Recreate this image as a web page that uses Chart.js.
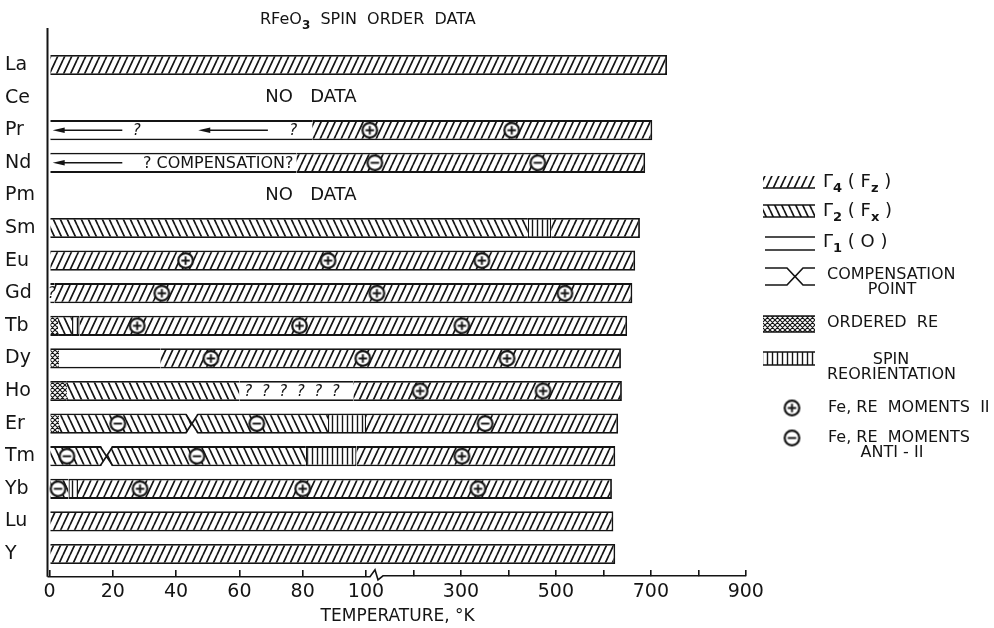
<!DOCTYPE html>
<html>
<head>
<meta charset="utf-8">
<title>RFeO3 spin order data</title>
<script src="https://cdn.jsdelivr.net/npm/chart.js@4.4.1/dist/chart.umd.min.js"></script>
<style>
  html, body { margin: 0; padding: 0; background: #fff; }
  #spinChart { display: block; }
</style>
</head>
<body>
<canvas id="spinChart" width="994" height="628"></canvas>
<script>
const compounds = ['La', 'Ce', 'Pr', 'Nd', 'Pm', 'Sm', 'Eu', 'Gd', 'Tb', 'Dy', 'Ho', 'Er', 'Tm', 'Yb', 'Lu', 'Y'];

// temperature ranges (K) of each spin phase, one slot per compound
const gamma4Fz = [[0, 734], null, [83, 703], [78, 688], null, [490, 677], [0, 667], [1.5, 661], [9.5, 650], [35, 637], [96, 639], [100, 631], [97, 625], [9, 618], [0, 621], [0, 625]];
const gamma2Fx = [null, null, null, null, null, [0, 441], null, null, [2.7, 7.1], null, [5.5, 60], [3, 88], [0, 81], [0, 6], null, null];
const gamma1 = [null, null, [0, 83], [0, 78], null, null, null, [0, 1.5], null, [3, 35], [60, 96], null, null, null, null, null];
const orderedRE = [null, null, null, null, null, null, null, null, [0, 2.7], [0, 3], [0, 5.5], [0, 3], null, null, null, null];
const spinReorient = [null, null, null, null, null, [441, 490], null, null, [7.1, 9.5], null, null, [88, 100], [81, 97], [6, 9], null, null];

// compensation points
const compRows = ['Er', 'Tm'];
const compTemps = [45, 18];

// Fe / RE moments parallel (+) and antiparallel (-)
const parallelRows = ['Pr', 'Pr', 'Eu', 'Eu', 'Eu', 'Gd', 'Gd', 'Gd', 'Tb', 'Tb', 'Tb', 'Dy', 'Dy', 'Dy', 'Ho', 'Ho', 'Tm', 'Yb', 'Yb', 'Yb'];
const parallelTemps = [108, 407, 43, 88, 344, 35.5, 123, 519, 27.7, 79, 302, 51, 99, 397, 214, 473, 302, 28.6, 80, 336];
const antiRows = ['Nd', 'Nd', 'Er', 'Er', 'Er', 'Tm', 'Tm', 'Yb'];
const antiTemps = [118.6, 462, 21.6, 65.5, 351, 5.5, 46.6, 2.7];

// uncertain regions written inside the bars
const noteRows = ['Pr', 'Pr', 'Nd', 'Ho', 'Gd'];
const noteTemps = [27.6, 77, 53.3, 76.6, 0.7];
const noteTexts = ['?', '?', '? COMPENSATION?', '?  ?  ?  ?  ?  ?', '?'];
const arrowRows = ['Pr', 'Pr', 'Nd'];
const arrowFrom = [23, 69, 23];
const arrowTo = [1, 47, 1];
const noDataRows = ['Ce', 'Pm'];
const noDataTemp = 82.6;

// temperature axis: linear to 100 K, compressed above
const tempTicks = [0, 20, 40, 60, 80, 100, 200, 300, 400, 500, 600, 700, 800, 900];
const tempLabels = ['0', '20', '40', '60', '80', '100', '', '300', '', '500', '', '700', '', '900'];
const BREAK_K = 100;
const UPPER_SCALE = 0.15;

const INK = '#141414';
const FONT = "'DejaVu Sans', 'Liberation Sans', sans-serif";

class BrokenTempScale extends Chart.LinearScale {
    units(v) { return v <= BREAK_K ? v : BREAK_K + (v - BREAK_K) * UPPER_SCALE; }
    fromUnits(u) { return u <= BREAK_K ? u : BREAK_K + (u - BREAK_K) / UPPER_SCALE; }
    buildTicks() { return tempTicks.map(v => ({ value: v })); }
    getPixelForValue(v) {
        if (v === null || v === undefined) return NaN;
        const lo = this.units(this.min), hi = this.units(this.max);
        return this.getPixelForDecimal((this.units(v) - lo) / (hi - lo));
    }
    getValueForPixel(p) {
        const lo = this.units(this.min), hi = this.units(this.max);
        return this.fromUnits(lo + this.getDecimalForPixel(p) * (hi - lo));
    }
}
BrokenTempScale.id = 'brokenTemp';
BrokenTempScale.defaults = Chart.LinearScale.defaults;
Chart.register(BrokenTempScale);

function makePattern(kind) {
    const c = document.createElement('canvas');
    const g = c.getContext('2d');
    if (kind === 'fwd' || kind === 'back') {
        c.width = 7; c.height = 15;
    } else if (kind === 'cross') {
        c.width = 5; c.height = 5;
    } else {
        c.width = 5; c.height = 4;
    }
    g.fillStyle = '#fff';
    g.fillRect(0, 0, c.width, c.height);
    g.strokeStyle = INK;
    g.lineWidth = 1.7;
    g.beginPath();
    const w = c.width, h = c.height;
    if (kind === 'fwd') {
        for (let k = -1; k <= 1; k++) { g.moveTo(k * w, h); g.lineTo(k * w + w, 0); }
    } else if (kind === 'back') {
        for (let k = -1; k <= 1; k++) { g.moveTo(k * w, 0); g.lineTo(k * w + w, h); }
    } else if (kind === 'cross') {
        g.lineWidth = 1.1;
        for (let k = -1; k <= 1; k++) {
            g.moveTo(k * w, h); g.lineTo(k * w + w, 0);
            g.moveTo(k * w, 0); g.lineTo(k * w + w, h);
        }
    } else {
        g.lineWidth = 1.4;
        g.moveTo(2.5, 0); g.lineTo(2.5, h);
    }
    g.stroke();
    return g.createPattern(c, 'repeat');
}

function momentGlyph(sign) {
    const c = document.createElement('canvas');
    c.width = c.height = 19;
    const g = c.getContext('2d');
    g.beginPath();
    g.arc(9.5, 9.5, 7.3, 0, Math.PI * 2);
    g.fillStyle = '#fff';
    g.fill();
    g.lineWidth = 2.2;
    g.strokeStyle = INK;
    g.stroke();
    g.beginPath();
    g.moveTo(5.3, 9.5); g.lineTo(13.7, 9.5);
    if (sign > 0) { g.moveTo(9.5, 5.3); g.lineTo(9.5, 13.7); }
    g.lineWidth = 1.9;
    g.stroke();
    return c;
}

const fills = {
    g4: makePattern('fwd'),
    g2: makePattern('back'),
    cross: makePattern('cross'),
    vert: makePattern('vert')
};
const plusGlyph = momentGlyph(1);
const minusGlyph = momentGlyph(-1);

const edgeTB = { top: 1.8, bottom: 1.8, left: 0, right: 0 };

function phaseSet(label, data, fill, border) {
    return {
        type: 'bar', label, data,
        backgroundColor: fill,
        borderColor: INK,
        borderWidth: border,
        borderSkipped: false,
        grouped: false,
        barPercentage: 0.62,
        categoryPercentage: 1,
        order: 1
    };
}

function momentSet(label, rows, temps, glyph) {
    return {
        type: 'scatter', label,
        data: temps.map((t, i) => ({ x: t, y: rows[i] })),
        pointStyle: glyph,
        pointRadius: 9,
        indexAxis: 'x',
        clip: false,
        order: 0
    };
}

function drawRuns(ctx, x, y, runs, size) {
    let cx = x;
    runs.forEach(([txt, sub]) => {
        const s = sub ? Math.round(size * 0.72) : size;
        ctx.font = `${sub ? 'bold ' : ''}${s}px ${FONT}`;
        ctx.fillText(txt, cx, y + (sub ? size * 0.38 : 0));
        cx += ctx.measureText(txt).width;
    });
}

const decorPlugin = {
    id: 'spinOrderDecor',
    afterDatasetsDraw(chart) {
        const { ctx, chartArea, scales: { x, y } } = chart;
        const rowY = r => y.getPixelForValue(compounds.indexOf(r));
        const barH = (y.getPixelForValue(1) - y.getPixelForValue(0)) * 0.62;
        ctx.save();
        ctx.strokeStyle = INK;
        ctx.fillStyle = INK;

        // compensation pinches
        compRows.forEach((r, i) => {
            const xc = x.getPixelForValue(compTemps[i]);
            const yc = rowY(r);
            const top = yc - barH / 2, bot = yc + barH / 2, w = 6;
            ctx.fillStyle = '#fff';
            ctx.beginPath();
            ctx.moveTo(xc - w, top - 1); ctx.lineTo(xc + w, top - 1); ctx.lineTo(xc, yc); ctx.closePath();
            ctx.moveTo(xc - w, bot + 1); ctx.lineTo(xc + w, bot + 1); ctx.lineTo(xc, yc); ctx.closePath();
            ctx.fill();
            ctx.lineWidth = 1.7;
            ctx.beginPath();
            ctx.moveTo(xc - w, top + 0.9); ctx.lineTo(xc, yc); ctx.lineTo(xc + w, top + 0.9);
            ctx.moveTo(xc - w, bot - 0.9); ctx.lineTo(xc, yc); ctx.lineTo(xc + w, bot - 0.9);
            ctx.stroke();
        });

        // arrows and question marks
        ctx.fillStyle = INK;
        ctx.lineWidth = 1.4;
        arrowRows.forEach((r, i) => {
            const yc = rowY(r);
            const x0 = x.getPixelForValue(arrowFrom[i]);
            const x1 = x.getPixelForValue(arrowTo[i]);
            ctx.beginPath();
            ctx.moveTo(x0, yc); ctx.lineTo(x1 + 8, yc);
            ctx.stroke();
            ctx.beginPath();
            ctx.moveTo(x1, yc); ctx.lineTo(x1 + 12, yc - 2.8); ctx.lineTo(x1 + 12, yc + 2.8); ctx.closePath();
            ctx.fill();
        });
        ctx.textAlign = 'center';
        ctx.textBaseline = 'middle';
        noteRows.forEach((r, i) => {
            const txt = noteTexts[i];
            ctx.font = txt.includes('COMP') ? `16px ${FONT}` : `italic 15px ${FONT}`;
            ctx.fillText(txt, x.getPixelForValue(noteTemps[i]), rowY(r) + 1);
        });
        ctx.font = `18px ${FONT}`;
        noDataRows.forEach(r => ctx.fillText('NO   DATA', x.getPixelForValue(noDataTemp), rowY(r)));

        // axes frame
        const axisY = chartArea.bottom + 6.5;
        ctx.lineWidth = 2;
        ctx.beginPath();
        ctx.moveTo(chartArea.left - 2, 28);
        ctx.lineTo(chartArea.left - 2, axisY);
        ctx.stroke();
        const xb = x.getPixelForValue(BREAK_K);
        ctx.lineWidth = 1.6;
        ctx.beginPath();
        ctx.moveTo(chartArea.left - 2, axisY);
        ctx.lineTo(xb + 4, axisY);
        ctx.lineTo(xb + 9, axisY - 7);
        ctx.lineTo(xb + 12, axisY + 3);
        ctx.lineTo(xb + 17, axisY - 1);
        ctx.lineTo(x.getPixelForValue(900), axisY - 1);
        ctx.stroke();
        ctx.restore();
    },
    afterDraw(chart) {
        const { ctx } = chart;
        ctx.save();
        ctx.fillStyle = INK;
        ctx.strokeStyle = INK;
        ctx.textBaseline = 'middle';
        ctx.textAlign = 'left';

        drawRuns(ctx, 260, 20, [['RFeO', 0], ['3', 1], ['  SPIN  ORDER  DATA', 0]], 16);

        const sx = 763, sw = 52;
        ctx.lineWidth = 1.6;
        // Γ4 and Γ2 swatches
        ctx.fillStyle = fills.g4; ctx.fillRect(sx, 176, sw, 12);
        ctx.fillStyle = fills.g2; ctx.fillRect(sx, 205, sw, 12);
        ctx.beginPath();
        ctx.moveTo(sx, 188); ctx.lineTo(sx + sw, 188);
        ctx.moveTo(sx, 205); ctx.lineTo(sx + sw, 205);
        ctx.moveTo(sx, 217); ctx.lineTo(sx + sw, 217);
        // Γ1
        ctx.moveTo(sx + 2, 237); ctx.lineTo(sx + sw, 237);
        ctx.moveTo(sx + 2, 250); ctx.lineTo(sx + sw, 250);
        // compensation point
        ctx.moveTo(sx + 2, 268); ctx.lineTo(sx + 24, 268); ctx.lineTo(sx + 32, 276.5); ctx.lineTo(sx + 40, 268); ctx.lineTo(sx + sw, 268);
        ctx.moveTo(sx + 2, 285); ctx.lineTo(sx + 24, 285); ctx.lineTo(sx + 32, 276.5); ctx.lineTo(sx + 40, 285); ctx.lineTo(sx + sw, 285);
        ctx.stroke();
        // ordered RE and spin reorientation
        ctx.fillStyle = fills.cross; ctx.fillRect(sx, 316, sw, 16);
        ctx.fillStyle = fills.vert; ctx.fillRect(sx, 352, sw, 13);
        ctx.beginPath();
        ctx.moveTo(sx, 316); ctx.lineTo(sx + sw, 316);
        ctx.moveTo(sx, 332); ctx.lineTo(sx + sw, 332);
        ctx.moveTo(sx, 352); ctx.lineTo(sx + sw, 352);
        ctx.moveTo(sx, 365); ctx.lineTo(sx + sw, 365);
        ctx.stroke();
        ctx.drawImage(plusGlyph, 792 - 9.5, 408 - 9.5);
        ctx.drawImage(minusGlyph, 792 - 9.5, 438 - 9.5);

        ctx.fillStyle = INK;
        drawRuns(ctx, 823, 182, [['Γ', 0], ['4', 1], [' ( F', 0], ['z', 1], [' )', 0]], 18);
        drawRuns(ctx, 823, 211, [['Γ', 0], ['2', 1], [' ( F', 0], ['x', 1], [' )', 0]], 18);
        drawRuns(ctx, 823, 242, [['Γ', 0], ['1', 1], [' ( O )', 0]], 18);
        ctx.font = `16px ${FONT}`;
        ctx.fillText('COMPENSATION', 827, 275);
        ctx.fillText('ORDERED  RE', 827, 323);
        ctx.fillText('REORIENTATION', 827, 375);
        ctx.fillText('Fe, RE  MOMENTS  II', 828, 408);
        ctx.fillText('Fe, RE  MOMENTS', 828, 438);
        ctx.textAlign = 'center';
        ctx.fillText('POINT', 892, 290);
        ctx.fillText('SPIN', 891, 360);
        ctx.fillText('ANTI - II', 892, 453);
        ctx.restore();
    }
};

new Chart(document.getElementById('spinChart'), {
    data: {
        labels: compounds,
        datasets: [
            momentSet('Fe, RE moments parallel', parallelRows, parallelTemps, plusGlyph),
            momentSet('Fe, RE moments antiparallel', antiRows, antiTemps, minusGlyph),
            phaseSet('Γ4 (Fz)', gamma4Fz, fills.g4, { top: 1.8, bottom: 1.8, left: 0, right: 1.8 }),
            phaseSet('Γ2 (Fx)', gamma2Fx, fills.g2, edgeTB),
            phaseSet('Γ1 (0)', gamma1, '#fff', edgeTB),
            phaseSet('Ordered RE', orderedRE, fills.cross, edgeTB),
            phaseSet('Spin reorientation', spinReorient, fills.vert, { top: 1.8, bottom: 1.8, left: 1.3, right: 1.3 })
        ]
    },
    options: {
        indexAxis: 'y',
        responsive: false,
        devicePixelRatio: 1,
        animation: false,
        layout: { padding: { left: 5, top: 48.7, right: 248.2, bottom: 0 } },
        plugins: {
            legend: { display: false },
            tooltip: { enabled: false }
        },
        scales: {
            x: {
                type: 'brokenTemp',
                position: 'bottom',
                min: 0,
                max: 900,
                grid: { drawOnChartArea: false, tickLength: 6, color: INK, lineWidth: 1.6 },
                border: { display: false },
                ticks: {
                    autoSkip: false,
                    maxRotation: 0,
                    padding: 4,
                    color: INK,
                    font: { family: FONT, size: 19 },
                    callback: v => tempLabels[tempTicks.indexOf(v)]
                },
                title: {
                    display: true,
                    text: 'TEMPERATURE, °K',
                    color: INK,
                    font: { family: FONT, size: 17 },
                    padding: { top: 0, bottom: 1 }
                },
                afterFit(scale) { scale.height = 57.7; }
            },
            y: {
                type: 'category',
                offset: true,
                grid: { display: false },
                border: { display: false },
                ticks: {
                    autoSkip: false,
                    crossAlign: 'far',
                    color: INK,
                    font: { family: FONT, size: 19 }
                },
                afterFit(scale) { scale.width = 44.5; }
            }
        }
    },
    plugins: [decorPlugin]
});
</script>
</body>
</html>
